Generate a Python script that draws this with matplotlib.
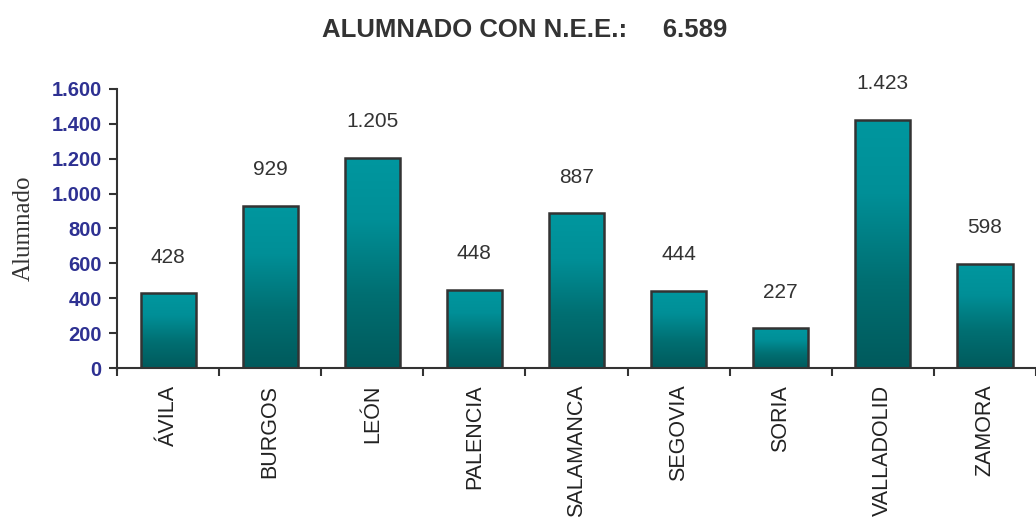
import matplotlib
matplotlib.use("Agg")
import matplotlib.pyplot as plt
import numpy as np
from matplotlib.colors import LinearSegmentedColormap

provincias = ["ÁVILA", "BURGOS", "LEÓN", "PALENCIA", "SALAMANCA",
              "SEGOVIA", "SORIA", "VALLADOLID", "ZAMORA"]
alumnado = [428, 929, 1205, 448, 887, 444, 227, 1423, 598]
total = 6589
yticks = [0, 200, 400, 600, 800, 1000, 1200, 1400, 1600]


def fmt_es(v):
    # thousands separator with a dot
    return f"{v:,}".replace(",", ".")


fig = plt.figure(figsize=(10.36, 5.24), dpi=100)
ax = fig.add_axes([0.113, 0.2977, 0.887, 0.5325])

# teal gradient, light on top, dark at the bottom
cmap = LinearSegmentedColormap.from_list(
    "teal", [(0.0, "#005a5c"), (0.35, "#006f72"), (0.7, "#008f97"), (1.0, "#00979f")])
grad = np.linspace(0, 1, 256).reshape(-1, 1)

x = np.arange(len(provincias))
width = 0.54
bars = ax.bar(x, alumnado, width=width, color="none", edgecolor="#333333",
              linewidth=1.8, zorder=3)
for b in bars:
    x0, y0 = b.get_x(), b.get_y()
    w, h = b.get_width(), b.get_height()
    im = ax.imshow(grad, cmap=cmap, origin="lower", aspect="auto",
                   extent=[x0, x0 + w, y0, y0 + h], zorder=2)
    im.set_clip_path(b)

for xi, v in zip(x, alumnado):
    ax.annotate(fmt_es(v), (xi, v), xytext=(0, 26), textcoords="offset points",
                ha="center", va="center", fontsize=15, color="#333333",
                family="Liberation Sans")

ax.set_xlim(-0.5, len(provincias) - 0.5)
ax.set_ylim(0, 1600)
ax.set_yticks(yticks)
ax.set_yticklabels([fmt_es(t) for t in yticks], fontsize=14.5, fontweight="bold",
                   color="#2e3192", family="Liberation Sans")

ax.set_xticks(x)
ax.set_xticklabels(provincias, rotation=90, fontsize=15.5, color="#222222",
                   family="Liberation Sans")
ax.tick_params(axis="x", which="major", length=0, pad=12)
ax.set_xticks(np.arange(len(provincias) + 1) - 0.5, minor=True)
ax.tick_params(axis="x", which="minor", length=6, width=1.5, color="#333333")
ax.tick_params(axis="y", length=6, width=1.5, color="#333333", pad=5)

for s in ["top", "right"]:
    ax.spines[s].set_visible(False)
for s in ["left", "bottom"]:
    ax.spines[s].set_color("#333333")
    ax.spines[s].set_linewidth(1.5)
ax.spines["left"].set_bounds(-12, 1600)

ax.set_ylabel("Alumnado", fontsize=18, family="Liberation Serif", color="#333333",
              labelpad=12)

fig.text(0.506, 0.942, f"ALUMNADO CON N.E.E.:     {fmt_es(total)}", ha="center",
         va="center", fontsize=18.5, fontweight="bold", color="#333333",
         family="Liberation Sans")

fig.savefig("out.png", dpi=100)
